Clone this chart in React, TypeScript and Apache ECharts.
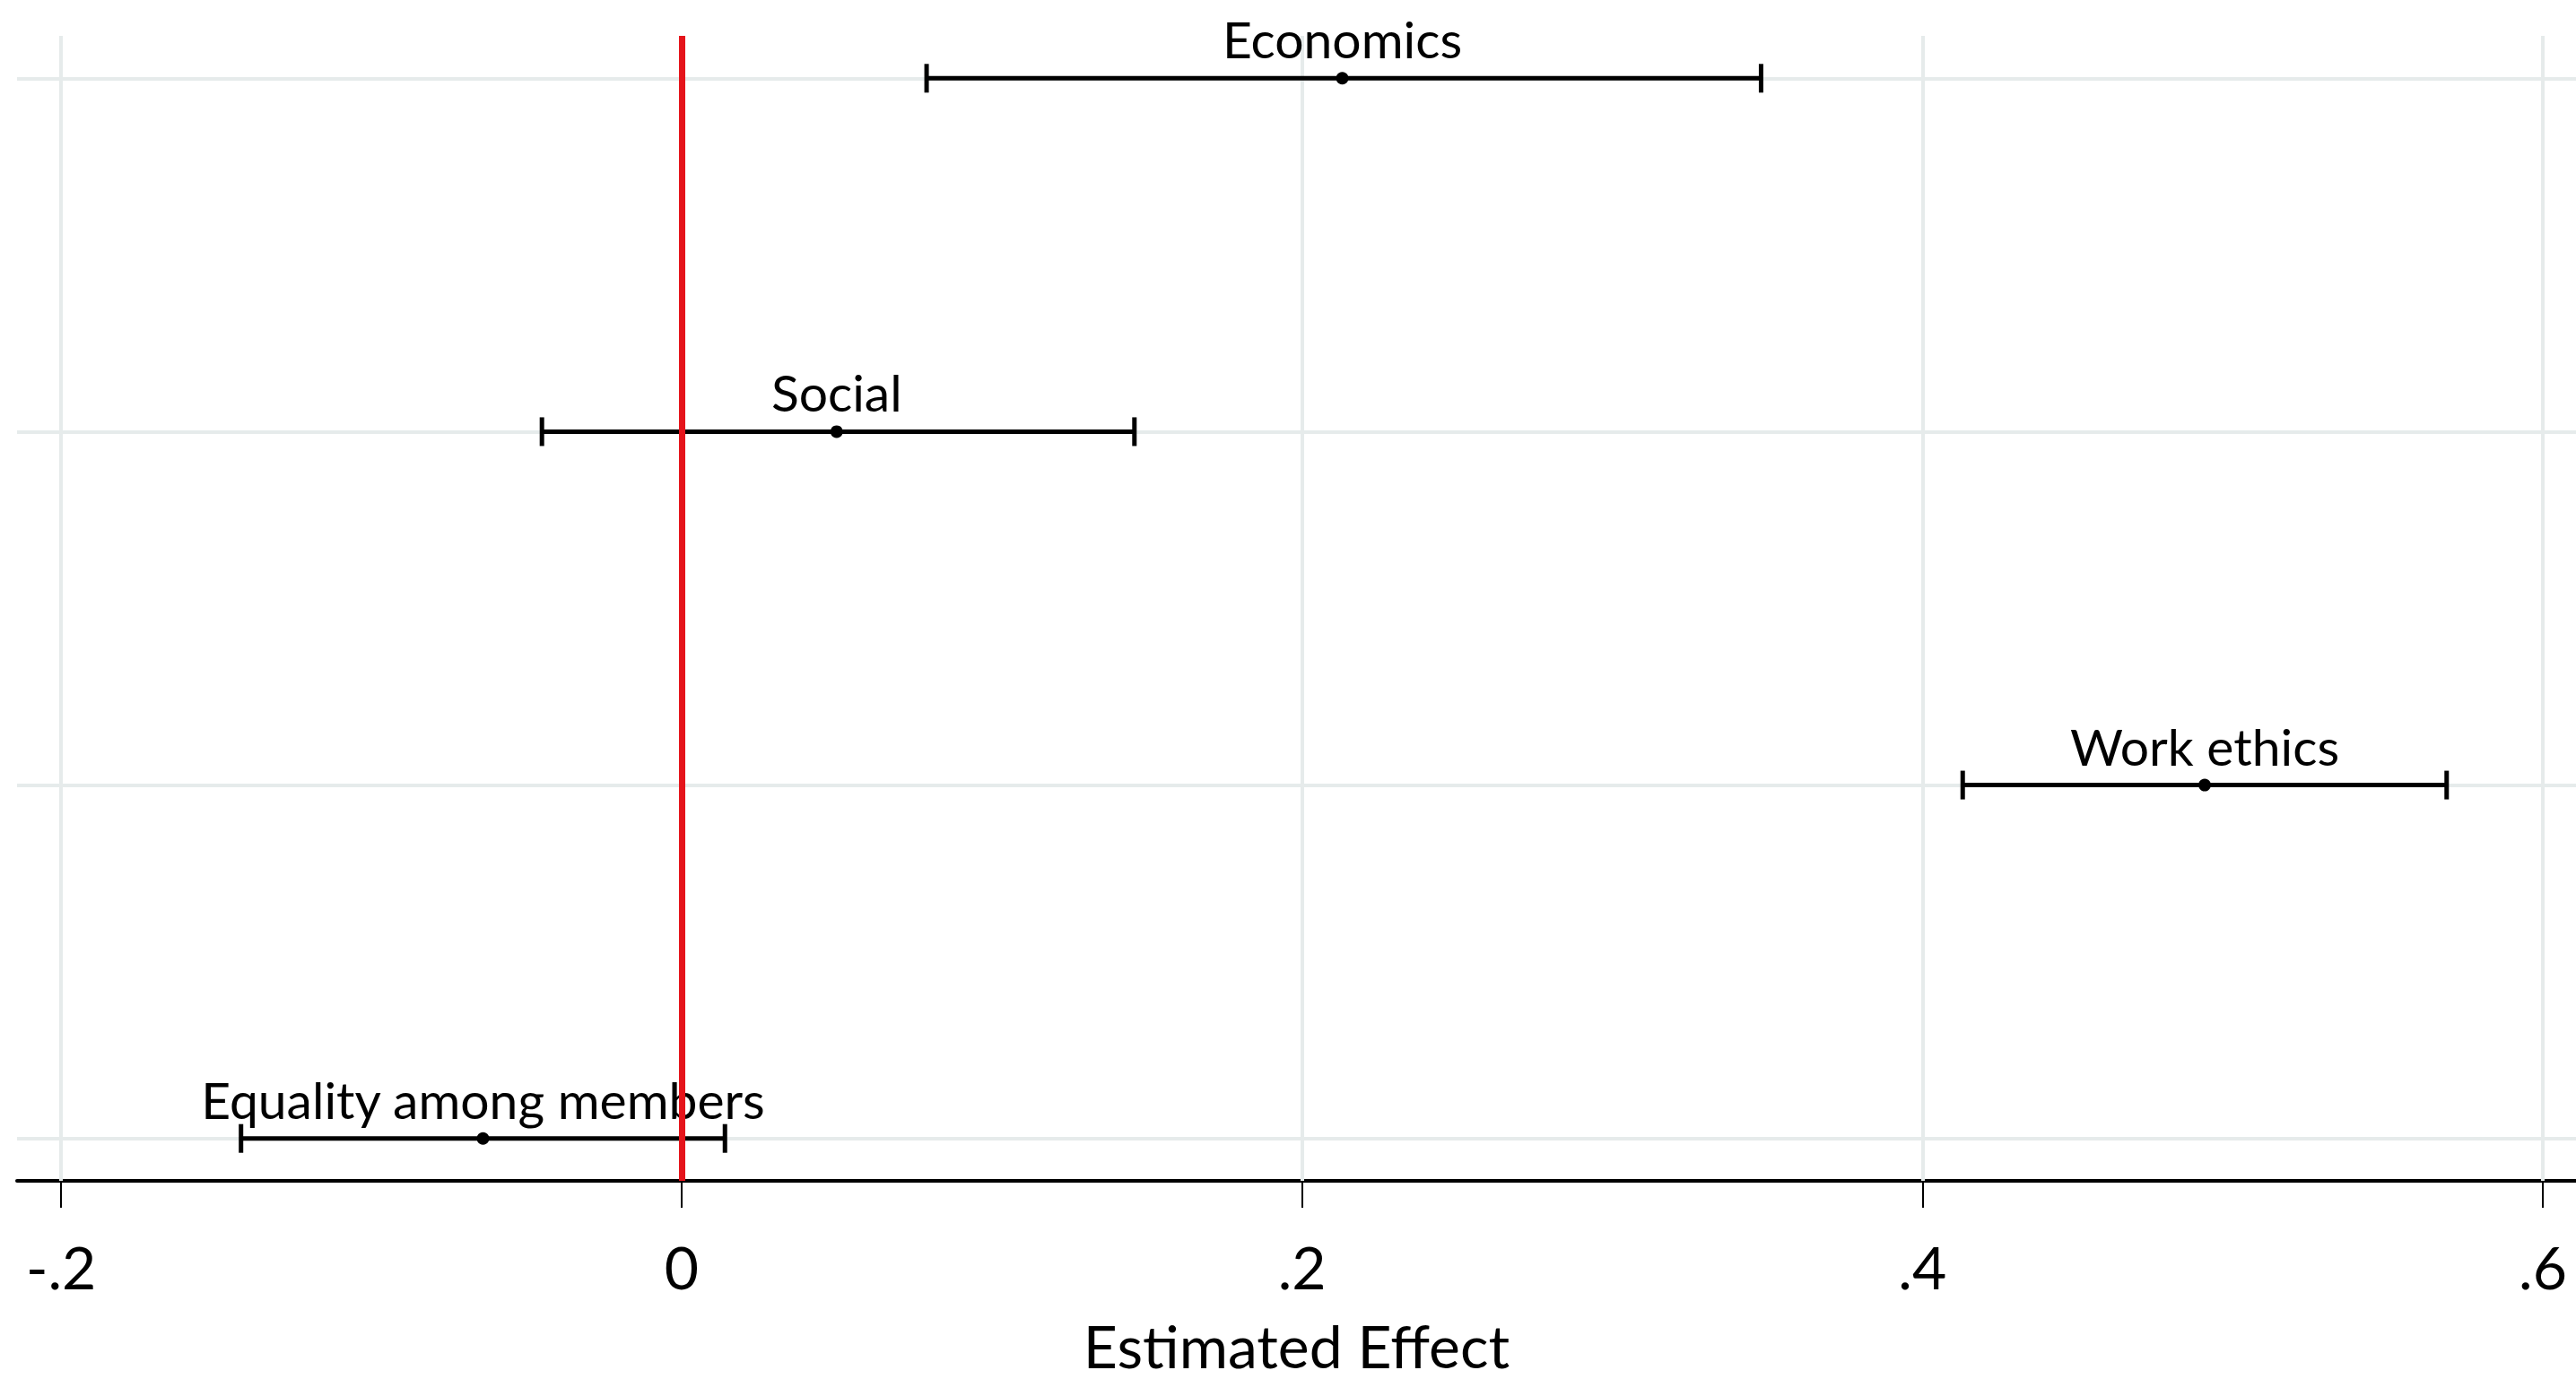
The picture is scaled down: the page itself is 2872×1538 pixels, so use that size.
import React, { useEffect, useRef } from "react";
import * as echarts from "echarts";

const categories = ["Economics", "Social", "Work ethics", "Equality among members"];
const rowPositions = [1, 2, 3, 4];
const estimates = [0.213, 0.05, 0.491, -0.064];
const lowerBounds = [0.079, -0.045, 0.413, -0.142];
const upperBounds = [0.348, 0.146, 0.569, 0.014];
const tickValues = [-0.2, 0, 0.2, 0.4, 0.6];
const referenceLine = 0;
const axisTitle = "Estimated Effect";

const fmtTick = (v: number) => {
  if (Math.abs(v) < 1e-9) return "0";
  const s = v.toFixed(1);
  return s.replace("0.", ".");
};

export default function App() {
  const ref = useRef<HTMLDivElement>(null);
  useEffect(() => {
    if (!ref.current) return;
    const chart = echarts.init(ref.current, undefined, { renderer: "svg" });
    const data = rowPositions.map((r, i) => [r, lowerBounds[i], upperBounds[i], estimates[i]]);
    const gridX = tickValues.filter((v) => v !== referenceLine);
    chart.setOption({
      animation: false,
      backgroundColor: "#ffffff",
      grid: { left: 19, right: 0, top: 40, bottom: 215, containLabel: false },
      xAxis: {
        type: "value",
        min: -0.2142,
        max: 0.6107,
        name: axisTitle,
        nameLocation: "middle",
        nameGap: 150,
        nameTextStyle: { fontFamily: "Lato", fontSize: 66, color: "#000" },
        axisLine: { show: true, onZero: false, lineStyle: { color: "#000", width: 4 } },
        axisTick: { show: true, length: 30, lineStyle: { color: "#000", width: 2 }, customValues: tickValues },
        axisLabel: {
          show: true,
          customValues: tickValues,
          formatter: (v: number) => fmtTick(v),
          fontFamily: "Lato",
          fontSize: 66,
          color: "#000",
          margin: 62,
        },
        splitLine: { show: false },
      },
      yAxis: {
        type: "value",
        min: 0.88,
        max: 4.12,
        inverse: true,
        show: false,
        splitLine: { show: false },
      },
      series: [
        {
          type: "line",
          data: [],
          z: 1,
          silent: true,
          markLine: {
            z: 1,
            silent: true,
            symbol: "none",
            label: { show: false },
            lineStyle: { color: "#e6ebeb", width: 4, type: "solid" },
            data: [
              ...gridX.map((v) => ({ xAxis: v })),
              ...rowPositions.map((r) => ({ yAxis: r })),
            ],
          },
        },
        {
          type: "custom",
          z: 3,
          silent: true,
          data,
          encode: { x: [1, 2, 3], y: 0 },
          renderItem: (params: any, api: any) => {
            const row = api.value(0);
            const lo = api.coord([api.value(1), row]);
            const hi = api.coord([api.value(2), row]);
            const pt = api.coord([api.value(3), row]);
            const capH = 16;
            const lw = 5;
            const fill = { fill: "#000", stroke: null, lineWidth: 0 };
            return {
              type: "group",
              children: [
                { type: "rect", shape: { x: lo[0], y: lo[1] - lw / 2, width: hi[0] - lo[0], height: lw }, style: fill },
                { type: "rect", shape: { x: lo[0] - lw / 2, y: lo[1] - capH, width: lw, height: capH * 2 }, style: fill },
                { type: "rect", shape: { x: hi[0] - lw / 2, y: hi[1] - capH, width: lw, height: capH * 2 }, style: fill },
                { type: "circle", shape: { cx: pt[0], cy: pt[1], r: 7 }, style: fill },
                {
                  type: "text",
                  x: pt[0],
                  y: pt[1] - 44,
                  style: {
                    text: categories[params.dataIndex],
                    fontFamily: "Lato",
                    fontSize: 57,
                    fill: "#000",
                    align: "center",
                    verticalAlign: "middle",
                  },
                },
              ],
            };
          },
        },
        {
          type: "line",
          data: [],
          z: 5,
          silent: true,
          markLine: {
            z: 6,
            silent: true,
            symbol: "none",
            label: { show: false },
            lineStyle: { color: "#e5141b", width: 7, type: "solid" },
            data: [{ xAxis: referenceLine }],
          },
        },
      ],
    });
    return () => chart.dispose();
  }, []);
  return (
    <div
      ref={ref}
      style={{ position: "fixed", left: 0, top: 0, width: 2872, height: 1538, background: "#fff" }}
    />
  );
}
